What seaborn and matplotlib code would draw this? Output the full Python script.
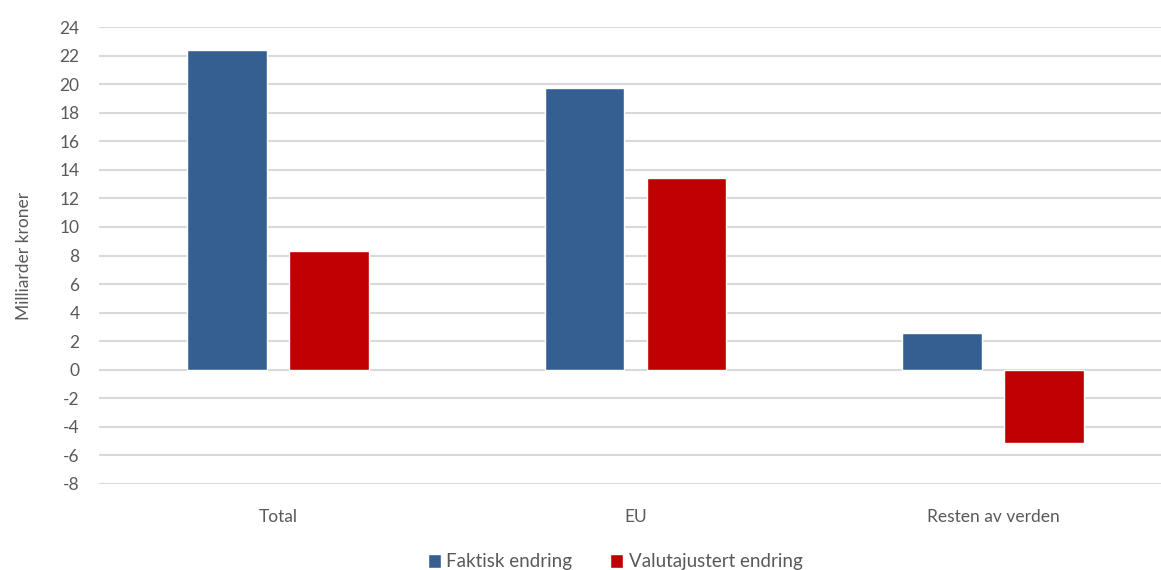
import matplotlib
matplotlib.use("Agg")
import matplotlib.pyplot as plt
import seaborn as sns
import pandas as pd

# chart data
categories = ["Total", "EU", "Resten av verden"]
series_names = ["Faktisk endring", "Valutajustert endring"]
faktisk = [22.4, 19.75, 2.6]
valutajustert = [8.3, 13.45, -5.15]
y_ticks = list(range(-8, 25, 2))

colors = ["#365F91", "#C00000"]
text_color = "#595959"

sns.set_style("white")
plt.rcParams['font.family'] = ['Lato', 'DejaVu Sans']

df = pd.DataFrame({
    "Kategori": categories * 2,
    "Serie": [series_names[0]] * 3 + [series_names[1]] * 3,
    "Verdi": faktisk + valutajustert,
})

fig = plt.figure(figsize=(11.61, 5.70), dpi=100)
ax = fig.add_axes([99 / 1161, 86 / 570, 1073 / 1161, 457 / 570])

sns.barplot(data=df, x="Kategori", y="Verdi", hue="Serie", palette=colors,
            width=0.57, gap=0.22, saturation=1, ax=ax, zorder=3)

ax.set_ylim(-8, 24)
ax.set_xlim(-0.5, 2.5)
ax.set_yticks(y_ticks)
ax.set_yticklabels([str(t) for t in y_ticks])
ax.yaxis.grid(True, color="#D9D9D9", linewidth=1.5, zorder=0)
ax.set_axisbelow(True)
for s in ax.spines.values():
    s.set_visible(False)
ax.tick_params(axis="both", length=0, labelsize=12.5, colors=text_color)
ax.tick_params(axis="x", pad=18)
ax.tick_params(axis="y", pad=14)
ax.set_xlabel("")
ax.set_ylabel("Milliarder kroner", fontsize=12.5, color=text_color, labelpad=20)

handles, labels = ax.get_legend_handles_labels()
ax.legend(handles, labels, loc="center", bbox_to_anchor=(615 / 1161, 1 - 562 / 570),
          bbox_transform=fig.transFigure, ncol=2, frameon=False, fontsize=13.5,
          labelcolor=text_color, handlelength=0.7, handleheight=0.7,
          handletextpad=0.3, columnspacing=2.0)

fig.savefig("out.png", dpi=100)
